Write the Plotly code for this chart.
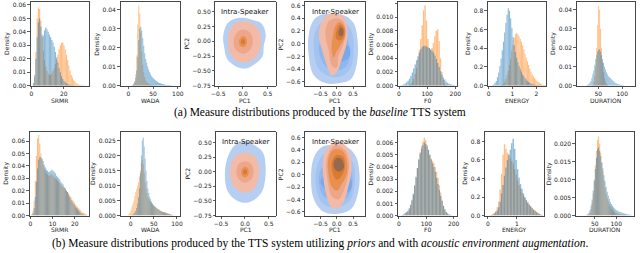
import plotly.graph_objects as go

W, H = 640, 253

# ---------------------------------------------------------------- data
# histogram bins: (first bin edge, bin width); densities per bin
SRMR_A_BINS = (1.0, 0.75)
srmr_a_orange = [0.001, 0.006, 0.025, 0.050, 0.058, 0.057, 0.048, 0.036, 0.026, 0.019, 0.014, 0.011,
                 0.009, 0.008, 0.008, 0.009, 0.011, 0.013, 0.016, 0.019, 0.023, 0.027, 0.030, 0.032,
                 0.032, 0.030, 0.027, 0.023, 0.019, 0.015, 0.011, 0.008, 0.006, 0.004, 0.003, 0.002,
                 0.0013, 0.0009, 0.0006, 0.0004, 0.0003, 0.0002, 0.0001, 0.0001]
srmr_a_blue = [0.002, 0.008, 0.020, 0.036, 0.047, 0.050, 0.044, 0.038, 0.037, 0.041, 0.043, 0.042,
               0.040, 0.038, 0.036, 0.034, 0.032, 0.029, 0.025, 0.021, 0.017, 0.013, 0.010, 0.007,
               0.005, 0.0035, 0.0025, 0.0018, 0.0012, 0.0008, 0.0006, 0.0004, 0.0003, 0.0002, 0.0001]

WADA_A_BINS = (8.0, 2.0)
wada_a_orange = [0.0003, 0.0008, 0.002, 0.006, 0.016, 0.032, 0.042, 0.038, 0.028, 0.018, 0.011, 0.007,
                 0.0045, 0.003, 0.002, 0.0014, 0.001, 0.0007, 0.0005, 0.0004, 0.0003, 0.0002, 0.0002,
                 0.0001, 0.0001]
wada_a_blue = [0.0005, 0.001, 0.002, 0.004, 0.008, 0.015, 0.024, 0.030, 0.031, 0.029, 0.025, 0.021,
               0.017, 0.014, 0.012, 0.010, 0.0085, 0.0072, 0.006, 0.005, 0.0043, 0.0037, 0.0032,
               0.0028, 0.0024, 0.002, 0.0017, 0.0014, 0.0012, 0.001, 0.0008, 0.0007, 0.0006, 0.0005,
               0.0004, 0.0003, 0.0003, 0.0002, 0.0002, 0.0001, 0.0001]

F0_A_BINS = (5.0, 5.0)
f0_a_orange = [0, 0, 0, 0, 0, 0, 0.0001, 0.0003, 0.0006, 0.001, 0.0017, 0.0026, 0.0038, 0.0052,
               0.0068, 0.0088, 0.011, 0.0117, 0.0095, 0.0068, 0.0055, 0.0052, 0.0055, 0.0062, 0.0072,
               0.008, 0.0082, 0.0065, 0.004, 0.002, 0.0008, 0.0003, 0.0001]
f0_a_blue = [0.00005, 0.0001, 0.0002, 0.0003, 0.0005, 0.0007, 0.001, 0.0014, 0.0019, 0.0025, 0.0031,
             0.0037, 0.0043, 0.0048, 0.0053, 0.0056, 0.0058, 0.0058, 0.0057, 0.0056, 0.0055, 0.0053,
             0.0051, 0.0048, 0.0044, 0.0039, 0.0033, 0.0027, 0.0021, 0.0016, 0.0012, 0.0009, 0.0006,
             0.0004, 0.0003, 0.0002, 0.00015, 0.0001, 0.00005]

ENERGY_A_BINS = (0.1, 0.05)
energy_a_orange = [0, 0, 0, 0, 0, 0, 0, 0, 0.005, 0.01, 0.02, 0.04, 0.07, 0.11, 0.16, 0.22, 0.29,
                   0.37, 0.44, 0.51, 0.55, 0.56, 0.55, 0.53, 0.50, 0.47, 0.43, 0.39, 0.34, 0.30, 0.26,
                   0.22, 0.18, 0.15, 0.12, 0.10, 0.08, 0.065, 0.05, 0.04, 0.03, 0.022, 0.015, 0.01,
                   0.006, 0.003]
energy_a_blue = [0.003, 0.008, 0.015, 0.03, 0.05, 0.09, 0.14, 0.21, 0.29, 0.38, 0.47, 0.57, 0.67,
                 0.76, 0.83, 0.80, 0.72, 0.62, 0.52, 0.43, 0.36, 0.30, 0.25, 0.21, 0.18, 0.15, 0.12,
                 0.10, 0.08, 0.065, 0.05, 0.04, 0.03, 0.022, 0.016, 0.012, 0.009, 0.006, 0.004, 0.003,
                 0.002, 0.001, 0.0005, 0.0003, 0.0002, 0.0001]

DURATION_A_BINS = (26.0, 2.0)
duration_a_orange = [0, 0, 0, 0, 0, 0, 0.0005, 0.002, 0.005, 0.010, 0.020, 0.032, 0.042, 0.040,
                     0.030, 0.020, 0.012, 0.007, 0.004, 0.002, 0.001, 0.0005]
duration_a_blue = [0.0003, 0.0006, 0.001, 0.0015, 0.0025, 0.004, 0.006, 0.008, 0.011, 0.014, 0.016,
                   0.018, 0.019, 0.019, 0.018, 0.016, 0.014, 0.012, 0.010, 0.0085, 0.007, 0.006,
                   0.005, 0.0045, 0.004, 0.0035, 0.003, 0.0025, 0.002, 0.0017, 0.0014, 0.0011,
                   0.0009, 0.0007, 0.0005, 0.0004, 0.0003, 0.0002, 0.0001]

SRMR_B_BINS = (0.5, 0.5)
srmr_b_orange = [0.001, 0.004, 0.012, 0.028, 0.048, 0.062, 0.065, 0.058, 0.050, 0.045, 0.041, 0.038,
                 0.036, 0.034, 0.033, 0.032, 0.032, 0.033, 0.033, 0.032, 0.031, 0.030, 0.029, 0.028,
                 0.027, 0.026, 0.025, 0.024, 0.023, 0.022, 0.021, 0.020, 0.019, 0.018, 0.016, 0.015,
                 0.013, 0.012, 0.011, 0.009, 0.008, 0.007, 0.006, 0.005, 0.004, 0.003, 0.0025, 0.002,
                 0.0015, 0.001]
srmr_b_blue = [0.0005, 0.002, 0.006, 0.015, 0.027, 0.038, 0.045, 0.047, 0.047, 0.046, 0.044, 0.041,
               0.039, 0.037, 0.036, 0.035, 0.035, 0.036, 0.037, 0.036, 0.035, 0.034, 0.032, 0.031,
               0.030, 0.029, 0.027, 0.026, 0.025, 0.023, 0.022, 0.020, 0.019, 0.017, 0.015, 0.013,
               0.012, 0.010, 0.009, 0.007, 0.006, 0.005, 0.004, 0.003, 0.002, 0.0015, 0.001, 0.0006,
               0.0003, 0.0001]

WADA_B_BINS = (-8.0, 2.0)
wada_b_orange = [0.0001, 0.0003, 0.0007, 0.0013, 0.002, 0.003, 0.004, 0.005, 0.0065, 0.0078, 0.0088,
                 0.0098, 0.011, 0.013, 0.015, 0.0175, 0.0185, 0.017, 0.014, 0.011, 0.009, 0.0075,
                 0.0063, 0.0055, 0.0049, 0.0044, 0.004, 0.0036, 0.0033, 0.003, 0.0028, 0.0026,
                 0.0024, 0.0022, 0.002, 0.0018, 0.0016, 0.0015, 0.0013, 0.0012, 0.0011, 0.001,
                 0.0009, 0.0008, 0.0007, 0.0006, 0.0005, 0.0004, 0.0003, 0.0002]
wada_b_blue = [0, 0, 0, 0, 0.0001, 0.0002, 0.0004, 0.0007, 0.001, 0.0015, 0.0025, 0.004, 0.006,
               0.009, 0.014, 0.020, 0.025, 0.026, 0.023, 0.019, 0.015, 0.0115, 0.009, 0.0075,
               0.0063, 0.0054, 0.0047, 0.0041, 0.0036, 0.0032, 0.0029, 0.0026, 0.0023, 0.0021,
               0.0019, 0.0017, 0.0015, 0.0013, 0.0012, 0.0011, 0.001, 0.0009, 0.0008, 0.0007,
               0.0006, 0.0005, 0.0004, 0.0003, 0.0002, 0.0001]

F0_B_BINS = (5.0, 5.0)
f0_b_orange = [0, 0.00003, 0.00006, 0.0001, 0.0002, 0.0003, 0.0005, 0.0008, 0.0012, 0.0017, 0.0024,
               0.0031, 0.0039, 0.0046, 0.0052, 0.0057, 0.0061, 0.0064, 0.0062, 0.0058, 0.0054,
               0.0050, 0.0047, 0.0045, 0.0043, 0.0040, 0.0036, 0.0031, 0.0025, 0.0019, 0.0013,
               0.0008, 0.0005, 0.0003, 0.0001, 0.00005, 0.00002]
f0_b_blue = [0, 0.00005, 0.0001, 0.0002, 0.0003, 0.0004, 0.0006, 0.0009, 0.0013, 0.0018, 0.0025,
             0.0032, 0.0039, 0.0046, 0.0051, 0.0055, 0.0058, 0.0060, 0.0059, 0.0057, 0.0054, 0.0050,
             0.0046, 0.0043, 0.0040, 0.0036, 0.0031, 0.0026, 0.0021, 0.0016, 0.0012, 0.0008,
             0.0005, 0.0003, 0.0002, 0.0001, 0.00006, 0.00003, 0.00001]

ENERGY_B_BINS = (0.0, 0.05)
energy_b_orange = [0.001, 0.004, 0.009, 0.018, 0.03, 0.05, 0.09, 0.15, 0.28, 0.45, 0.66, 0.77, 0.72,
                   0.68, 0.65, 0.62, 0.59, 0.56, 0.50, 0.44, 0.38, 0.33, 0.29, 0.25, 0.22, 0.19, 0.16,
                   0.14, 0.12, 0.10, 0.085, 0.07, 0.055, 0.042, 0.03, 0.02, 0.012, 0.006]
energy_b_blue = [0, 0.002, 0.005, 0.01, 0.02, 0.035, 0.055, 0.09, 0.15, 0.24, 0.33, 0.43, 0.52, 0.60,
                 0.66, 0.71, 0.78, 0.83, 0.72, 0.60, 0.50, 0.41, 0.34, 0.29, 0.24, 0.20, 0.17, 0.14,
                 0.12, 0.10, 0.08, 0.06, 0.048, 0.036, 0.025, 0.016, 0.01, 0.005]

DURATION_B_BINS = (30.0, 2.5)
duration_b_orange = [0, 0.0001, 0.0003, 0.0008, 0.0018, 0.0035, 0.006, 0.0095, 0.014, 0.018, 0.021,
                     0.022, 0.020, 0.0175, 0.0148, 0.0122, 0.0098, 0.0078, 0.0062, 0.0049, 0.0039,
                     0.0031, 0.0025, 0.002, 0.0016, 0.0013, 0.001, 0.0008, 0.0007, 0.0006, 0.0005,
                     0.0004, 0.0003, 0.0003, 0.0002, 0.0002, 0.0001]
duration_b_blue = [0.0002, 0.0004, 0.0008, 0.0015, 0.0028, 0.0045, 0.007, 0.010, 0.013, 0.016,
                   0.0185, 0.019, 0.018, 0.0165, 0.0148, 0.0132, 0.0112, 0.0095, 0.008, 0.0066,
                   0.0055, 0.0046, 0.0038, 0.0032, 0.0027, 0.0023, 0.002, 0.0017, 0.0015, 0.0013,
                   0.0011, 0.001, 0.0009, 0.0008, 0.0007, 0.0006, 0.0005, 0.0004, 0.0003, 0.0003,
                   0.0002, 0.0002, 0.0001]

# KDE contour outlines (PC1, PC2), outer level first
intra_a_blue = [
    [(0.0, 0.40), (0.2, 0.36), (0.38, 0.30), (0.46, 0.12), (0.42, -0.08), (0.40, -0.25), (0.25, -0.38),
     (0.05, -0.46), (-0.15, -0.42), (-0.32, -0.30), (-0.38, -0.10), (-0.40, 0.10), (-0.32, 0.30), (-0.18, 0.38)],
]
intra_a_orange = [
    [(0.0, 0.34), (0.2, 0.30), (0.34, 0.15), (0.36, -0.05), (0.28, -0.25), (0.1, -0.35), (-0.1, -0.34),
     (-0.25, -0.22), (-0.3, 0.0), (-0.26, 0.2), (-0.15, 0.31)],
    [(0.0, 0.2), (0.15, 0.14), (0.2, 0.0), (0.14, -0.15), (0.0, -0.21), (-0.15, -0.14), (-0.19, 0.0), (-0.13, 0.14)],
    [(0.0, 0.09), (0.07, 0.05), (0.08, -0.02), (0.05, -0.08), (0.0, -0.1), (-0.06, -0.07), (-0.08, 0.0), (-0.05, 0.06)],
    [(0.0, 0.045), (0.035, 0.02), (0.035, -0.03), (0.0, -0.05), (-0.035, -0.03), (-0.035, 0.02)],
]
inter_a_blue = [
    [(-0.12, 0.47), (0.25, 0.44), (0.52, 0.32), (0.64, 0.05), (0.62, -0.3), (0.45, -0.55), (0.1, -0.62),
     (-0.35, -0.62), (-0.7, -0.5), (-0.86, -0.2), (-0.86, 0.15), (-0.7, 0.38), (-0.45, 0.46)],
    [(-0.1, 0.38), (0.2, 0.35), (0.45, 0.2), (0.52, -0.05), (0.45, -0.35), (0.2, -0.5), (-0.2, -0.52),
     (-0.55, -0.4), (-0.7, -0.1), (-0.65, 0.2), (-0.4, 0.36)],
    [(-0.05, 0.2), (0.3, 0.1), (0.4, -0.1), (0.3, -0.35), (0.0, -0.42), (-0.35, -0.35), (-0.55, -0.1),
     (-0.45, 0.1), (-0.25, 0.2)],
    [(0.1, 0.0), (0.38, -0.05), (0.38, -0.22), (0.1, -0.28), (-0.2, -0.22), (-0.3, -0.1)],
]
inter_a_orange = [
    [(-0.05, 0.47), (0.2, 0.43), (0.32, 0.25), (0.3, 0.0), (0.15, -0.25), (0.0, -0.45), (-0.15, -0.5),
     (-0.3, -0.35), (-0.45, -0.1), (-0.55, 0.1), (-0.5, 0.3), (-0.3, 0.45)],
    [(0.0, 0.40), (0.2, 0.35), (0.27, 0.18), (0.2, -0.02), (0.05, -0.2), (0.0, -0.38), (-0.15, -0.35),
     (-0.25, -0.1), (-0.35, 0.15), (-0.25, 0.35)],
    [(0.08, 0.34), (0.24, 0.27), (0.25, 0.1), (0.12, -0.02), (0.0, -0.12), (-0.1, -0.22), (-0.16, -0.08),
     (-0.12, 0.12), (-0.05, 0.27)],
    [(0.1, 0.3), (0.22, 0.24), (0.21, 0.1), (0.08, 0.05), (-0.02, 0.08), (0.0, 0.22)],
    [(0.12, 0.26), (0.2, 0.22), (0.18, 0.13), (0.09, 0.12), (0.05, 0.18)],
]
intra_b_blue = [
    [(0.0, 0.52), (0.2, 0.45), (0.38, 0.32), (0.43, 0.1), (0.42, -0.15), (0.35, -0.35), (0.15, -0.5),
     (-0.05, -0.53), (-0.25, -0.45), (-0.38, -0.3), (-0.42, -0.05), (-0.38, 0.2), (-0.25, 0.42), (-0.12, 0.5)],
]
intra_b_orange = [
    [(0.0, 0.33), (0.2, 0.27), (0.29, 0.1), (0.28, -0.12), (0.18, -0.3), (0.0, -0.36), (-0.18, -0.3),
     (-0.3, -0.12), (-0.3, 0.1), (-0.2, 0.27)],
    [(0.0, 0.18), (0.13, 0.13), (0.18, 0.0), (0.13, -0.13), (0.0, -0.19), (-0.13, -0.13), (-0.18, 0.0), (-0.13, 0.13)],
    [(0.0, 0.09), (0.07, 0.05), (0.08, -0.02), (0.05, -0.08), (0.0, -0.1), (-0.06, -0.07), (-0.08, 0.0), (-0.05, 0.06)],
    [(0.0, 0.045), (0.035, 0.02), (0.035, -0.03), (0.0, -0.05), (-0.035, -0.03), (-0.035, 0.02)],
]
inter_b_blue = [
    [(-0.1, 0.48), (0.3, 0.45), (0.58, 0.3), (0.7, 0.0), (0.65, -0.3), (0.45, -0.55), (0.05, -0.63),
     (-0.4, -0.6), (-0.7, -0.4), (-0.79, -0.05), (-0.7, 0.28), (-0.45, 0.45)],
    [(-0.1, 0.38), (0.3, 0.33), (0.52, 0.15), (0.55, -0.15), (0.4, -0.42), (0.0, -0.52), (-0.4, -0.48),
     (-0.62, -0.25), (-0.62, 0.1), (-0.42, 0.32)],
    [(0.0, 0.2), (0.4, 0.1), (0.48, -0.15), (0.3, -0.38), (-0.05, -0.42), (-0.4, -0.35), (-0.55, -0.1),
     (-0.45, 0.12), (-0.2, 0.2)],
    [(0.1, 0.0), (0.42, -0.05), (0.42, -0.25), (0.1, -0.3), (-0.3, -0.25), (-0.5, -0.12), (-0.35, 0.0)],
]
inter_b_orange = [
    [(0.0, 0.53), (0.15, 0.52), (0.3, 0.45), (0.42, 0.3), (0.45, 0.05), (0.35, -0.2), (0.2, -0.45),
     (0.0, -0.55), (-0.2, -0.5), (-0.33, -0.3), (-0.42, 0.0), (-0.4, 0.3), (-0.2, 0.48)],
    [(0.0, 0.47), (0.25, 0.4), (0.37, 0.22), (0.35, 0.0), (0.22, -0.25), (0.05, -0.4), (-0.15, -0.35),
     (-0.28, -0.1), (-0.32, 0.2), (-0.18, 0.42)],
    [(0.0, 0.42), (0.2, 0.37), (0.32, 0.2), (0.3, 0.0), (0.15, -0.15), (0.0, -0.26), (-0.15, -0.2),
     (-0.25, 0.0), (-0.27, 0.22), (-0.15, 0.38)],
    [(0.0, 0.32), (0.2, 0.28), (0.25, 0.12), (0.15, -0.02), (0.0, -0.08), (-0.12, 0.02), (-0.15, 0.2)],
    [(0.0, 0.27), (0.15, 0.25), (0.22, 0.12), (0.1, 0.05), (-0.05, 0.08), (-0.1, 0.18)],
]

CAPTION_A = "(a) Measure distributions produced by the <i>baseline</i> TTS system"
CAPTION_B = ("(b) Measure distributions produced by the TTS system utilizing <i>priors</i> and with "
             "<i>acoustic environment augmentation</i>.")

# ---------------------------------------------------------------- style
BLUE = "#1f77b4"
ORANGE = "#ff7f0e"
BLUE_LEVELS = ["#b5cef2", "#a3c3f0", "#90b6ee", "#7aa8ea"]
ORANGE_LEVELS = ["#f2bba7", "#eea68b", "#e8904f", "#d97a33", "#96694f"]
FONT = "DejaVu Sans"
AXC = "#333333"

fig = go.Figure()


def ax_id(k):
    return ("x" if k == 1 else f"x{k}"), ("y" if k == 1 else f"y{k}")


def add_hist(k, bins, orange, blue):
    start, width = bins
    xa, ya = ax_id(k)
    for vals, col in ((orange, ORANGE), (blue, BLUE)):
        xs = [start + width * (i + 0.5) for i in range(len(vals))]
        fig.add_trace(go.Bar(x=xs, y=vals, width=width, marker=dict(color=col, line=dict(width=0)),
                             opacity=0.5, xaxis=xa, yaxis=ya, showlegend=False, hoverinfo="skip"))


def add_kde(k, blue_levels, orange_levels):
    xa, ya = ax_id(k)
    for levels, cols in ((blue_levels, BLUE_LEVELS), (orange_levels, ORANGE_LEVELS)):
        for lvl, col in zip(levels, cols):
            xs = [p[0] for p in lvl] + [lvl[0][0]]
            ys = [p[1] for p in lvl] + [lvl[0][1]]
            fig.add_trace(go.Scatter(x=xs, y=ys, mode="lines", fill="toself", fillcolor=col,
                                     line=dict(width=0, color=col, shape="spline", smoothing=1.0),
                                     xaxis=xa, yaxis=ya, showlegend=False, hoverinfo="skip"))


add_hist(1, SRMR_A_BINS, srmr_a_orange, srmr_a_blue)
add_hist(2, WADA_A_BINS, wada_a_orange, wada_a_blue)
add_kde(3, intra_a_blue, intra_a_orange)
add_kde(4, inter_a_blue, inter_a_orange)
add_hist(5, F0_A_BINS, f0_a_orange, f0_a_blue)
add_hist(6, ENERGY_A_BINS, energy_a_orange, energy_a_blue)
add_hist(7, DURATION_A_BINS, duration_a_orange, duration_a_blue)
add_hist(8, SRMR_B_BINS, srmr_b_orange, srmr_b_blue)
add_hist(9, WADA_B_BINS, wada_b_orange, wada_b_blue)
add_kde(10, intra_b_blue, intra_b_orange)
add_kde(11, inter_b_blue, inter_b_orange)
add_hist(12, F0_B_BINS, f0_b_orange, f0_b_blue)
add_hist(13, ENERGY_B_BINS, energy_b_orange, energy_b_blue)
add_hist(14, DURATION_B_BINS, duration_b_orange, duration_b_blue)


def lab(v, fmt):
    return fmt.format(v).replace("-", "\u2212")


dens6 = [0, 0.01, 0.02, 0.03, 0.04, 0.05, 0.06]
dens4 = [0, 0.01, 0.02, 0.03, 0.04]
pc_intra = [-0.75, -0.5, -0.25, 0, 0.25, 0.5]
pc_inter = [-0.6, -0.4, -0.2, 0, 0.2, 0.4, 0.6]
pc1 = [-0.5, 0, 0.5]

# box: left, right, top, bottom (px)
panels = [
    dict(box=(27, 86, 1, 86), xr=(-0.4, 35.5), yr=(0, 0.0622), xt=[0, 20], xf="{:g}", yt=dens6, yf="{:.2f}", xl="SRMR", yl="Density"),
    dict(box=(118, 178, 1, 86), xr=(-16, 104), yr=(0, 0.044), xt=[0, 50, 100], xf="{:g}", yt=dens4, yf="{:.2f}", xl="WADA", yl="Density"),
    dict(box=(214, 275, 1, 86), xr=(-0.56, 0.66), yr=(-0.75, 0.667), xt=pc1, xf="{:.1f}", yt=pc_intra, yf="{:.2f}", xl="PC1", yl="PC2", title="Intra-Speaker"),
    dict(box=(305, 366, 1, 86), xr=(-0.97, 0.88), yr=(-0.66, 0.656), xt=pc1, xf="{:.1f}", yt=pc_inter, yf="{:.1f}", xl="PC1", yl="PC2", title="Inter-Speaker"),
    dict(box=(399, 459, 1, 86), xr=(-3.5, 207), yr=(0, 0.0122), xt=[0, 100, 200], xf="{:g}", yt=[0, 0.002, 0.004, 0.006, 0.008, 0.010, 0.012], yf="{:.3f}", xl="F0", yl="Density"),
    dict(box=(490, 549, 1, 86), xr=(-0.03, 2.41), yr=(0, 0.896), xt=[0, 1, 2], xf="{:g}", yt=[0, 0.2, 0.4, 0.6, 0.8], yf="{:.1f}", xl="ENERGY", yl="Density"),
    dict(box=(580, 639, 1, 86), xr=(5.4, 126.6), yr=(0, 0.0441), xt=[50, 100], xf="{:g}", yt=dens4, yf="{:.2f}", xl="DURATION", yl="Density"),
    dict(box=(26, 86, 133, 218), xr=(-0.3, 26.4), yr=(0, 0.0674), xt=[0, 10, 20], xf="{:g}", yt=dens6, yf="{:.2f}", xl="SRMR", yl="Density"),
    dict(box=(118, 178, 133, 218), xr=(-22, 106), yr=(0, 0.0279), xt=[0, 50, 100], xf="{:g}", yt=[0, 0.005, 0.010, 0.015, 0.020, 0.025], yf="{:.3f}", xl="WADA", yl="Density"),
    dict(box=(215, 275, 133, 218), xr=(-0.6, 0.64), yr=(-0.75, 0.68), xt=pc1, xf="{:.1f}", yt=pc_intra, yf="{:.2f}", xl="PC1", yl="PC2", title="Intra-Speaker"),
    dict(box=(305, 366, 133, 218), xr=(-0.97, 0.88), yr=(-0.66, 0.69), xt=pc1, xf="{:.1f}", yt=pc_inter, yf="{:.1f}", xl="PC1", yl="PC2", title="Inter-Speaker"),
    dict(box=(399, 459, 133, 218), xr=(-3.6, 213), yr=(0, 0.00688), xt=[0, 100, 200], xf="{:g}", yt=[0, 0.001, 0.002, 0.003, 0.004, 0.005, 0.006], yf="{:.3f}", xl="F0", yl="Density"),
    dict(box=(487, 547, 133, 218), xr=(-0.1, 1.94), yr=(0, 0.903), xt=[0, 1], xf="{:g}", yt=[0, 0.2, 0.4, 0.6, 0.8], yf="{:.1f}", xl="ENERGY", yl="Density"),
    dict(box=(579, 638, 133, 218), xr=(5.4, 141.6), yr=(0, 0.0233), xt=[50, 100], xf="{:g}", yt=[0, 0.005, 0.010, 0.015, 0.020], yf="{:.3f}", xl="DURATION", yl="Density"),
]

TICK_FONT = dict(family=FONT, size=6, color="#222222")
CHAR_W = {"0": 0.636, "1": 0.636, "2": 0.636, "3": 0.636, "4": 0.636, "5": 0.636, "6": 0.636,
          "7": 0.636, "8": 0.636, "9": 0.636, ".": 0.318, "\u2212": 0.838}

layout = dict(width=W, height=H, margin=dict(l=0, r=0, t=0, b=0), paper_bgcolor="white",
              plot_bgcolor="white", barmode="overlay", showlegend=False)
annotations = []
for k, p in enumerate(panels, start=1):
    x0, x1, y0, y1 = p["box"]
    xkey = "xaxis" if k == 1 else f"xaxis{k}"
    ykey = "yaxis" if k == 1 else f"yaxis{k}"
    xa, ya = ax_id(k)
    common = dict(showline=True, mirror=True, linecolor=AXC, linewidth=0.9, ticks="outside",
                  ticklen=2.5, tickwidth=0.8, tickcolor=AXC, showgrid=False, zeroline=False,
                  tickfont=TICK_FONT, fixedrange=True)
    yticks = [lab(v, p["yf"]) for v in p["yt"]]
    layout[xkey] = dict(common, domain=[x0 / W, x1 / W], range=list(p["xr"]), anchor=ya,
                        tickmode="array", tickvals=p["xt"], ticktext=[lab(v, p["xf"]) for v in p["xt"]])
    layout[ykey] = dict(common, domain=[1 - y1 / H, 1 - y0 / H], range=list(p["yr"]), anchor=xa,
                        tickmode="array", tickvals=p["yt"], ticktext=yticks)
    # axis titles
    row_xt = 101 if y1 < 100 else 232
    annotations.append(dict(text=p["xl"], x=(x0 + x1) / 2 / W, y=1 - row_xt / H, xref="paper", yref="paper",
                            showarrow=False, xanchor="center", yanchor="middle", borderpad=0,
                            font=dict(family=FONT, size=6, color="#222222")))
    maxw = max(sum(CHAR_W.get(c, 0.6) for c in t) for t in yticks) * 6
    yt_x = x0 - 5 - maxw - 5.5
    annotations.append(dict(text=p["yl"], x=yt_x / W, y=1 - (y0 + y1) / 2 / H, xref="paper", yref="paper",
                            showarrow=False, xanchor="center", yanchor="middle", textangle=-90, borderpad=0,
                            font=dict(family=FONT, size=6, color="#222222")))
    if "title" in p:
        annotations.append(dict(text=p["title"], x=(x0 + x1) / 2 / W, y=1 - (y0 + 10) / H, xref="paper",
                                yref="paper", showarrow=False, xanchor="center", yanchor="middle",
                                font=dict(family=FONT, size=7, color="#111111")))

annotations.append(dict(text=CAPTION_A, x=0.5, y=1 - 113 / H, xref="paper", yref="paper", showarrow=False,
                        xanchor="center", yanchor="middle", font=dict(family="Liberation Serif", size=11.5, color="black")))
annotations.append(dict(text=CAPTION_B, x=0.5, y=1 - 246 / H, xref="paper", yref="paper", showarrow=False,
                        xanchor="center", yanchor="middle", font=dict(family="Liberation Serif", size=11.5, color="black")))
layout["annotations"] = annotations
fig.update_layout(**layout)

fig.write_html("out.html", config={"displayModeBar": False, "staticPlot": True},
               post_script="document.body.style.margin='0';document.body.style.overflow='hidden';")
